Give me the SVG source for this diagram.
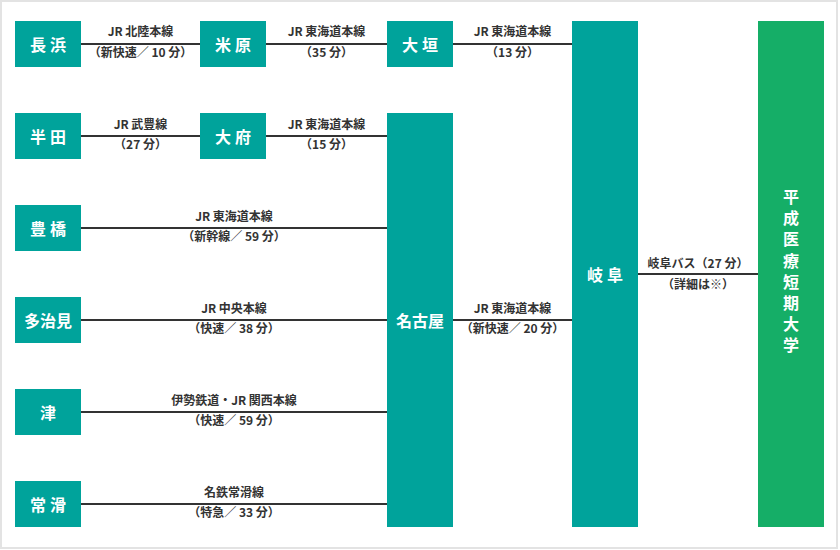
<svg xmlns="http://www.w3.org/2000/svg" width="840" height="550" viewBox="0 0 840 550">
<style>
.st rect{fill:#00a39b;}
.uni rect{fill:#15ae67;}
.nm{font-family:"Noto Sans CJK JP","Noto Sans",sans-serif;font-size:16px;font-weight:700;fill:#fff;text-anchor:middle;dominant-baseline:central;}
.sp{letter-spacing:4px;}
.vt{font-family:"Noto Sans CJK JP","Noto Sans",sans-serif;font-size:16px;font-weight:700;fill:#fff;writing-mode:vertical-rl;letter-spacing:5.2px;}
.lb{font-family:"Noto Sans CJK JP","Noto Sans",sans-serif;font-size:12px;font-weight:700;fill:#333;text-anchor:middle;}
.cn line{stroke:#333;stroke-width:2;}
</style>
<rect x="1" y="1" width="836" height="547" fill="#fff" stroke="#e3e3e3" stroke-width="2"/>
<g id="connectors" class="cn">
<line x1="81" y1="44" x2="200" y2="44"/>
<line x1="266" y1="44" x2="387" y2="44"/>
<line x1="453" y1="44" x2="572" y2="44"/>
<line x1="81" y1="136" x2="200" y2="136"/>
<line x1="266" y1="136" x2="387" y2="136"/>
<line x1="81" y1="228" x2="387" y2="228"/>
<line x1="81" y1="320" x2="387" y2="320"/>
<line x1="81" y1="412" x2="387" y2="412"/>
<line x1="81" y1="504" x2="387" y2="504"/>
<line x1="453" y1="320" x2="572" y2="320"/>
<line x1="638" y1="274" x2="758" y2="274"/>
</g>
<g id="labels">
<text class="lb" x="140.5" y="36">JR 北陸本線</text>
<text class="lb" x="140.5" y="57">（新快速／ 10 分）</text>
<text class="lb" x="326.5" y="36">JR 東海道本線</text>
<text class="lb" x="326.5" y="57">（35 分）</text>
<text class="lb" x="512.5" y="36">JR 東海道本線</text>
<text class="lb" x="512.5" y="57">（13 分）</text>
<text class="lb" x="140.5" y="129">JR 武豊線</text>
<text class="lb" x="140.5" y="149">（27 分）</text>
<text class="lb" x="326.5" y="129">JR 東海道本線</text>
<text class="lb" x="326.5" y="149">（15 分）</text>
<text class="lb" x="234" y="221">JR 東海道本線</text>
<text class="lb" x="234" y="241">（新幹線／ 59 分）</text>
<text class="lb" x="234" y="313">JR 中央本線</text>
<text class="lb" x="234" y="333">（快速／ 38 分）</text>
<text class="lb" x="234" y="405">伊勢鉄道・JR 関西本線</text>
<text class="lb" x="234" y="425">（快速／ 59 分）</text>
<text class="lb" x="234" y="497">名鉄常滑線</text>
<text class="lb" x="234" y="517">（特急／ 33 分）</text>
<text class="lb" x="512.5" y="313">JR 東海道本線</text>
<text class="lb" x="512.5" y="333">（新快速／ 20 分）</text>
<text class="lb" x="698" y="268">岐阜バス（27 分）</text>
<text class="lb" x="698" y="289">（詳細は※）</text>
</g>
<g id="nagahama" class="st"><rect x="15" y="21" width="66" height="46"/><text class="nm sp" x="50" y="44">長浜</text></g>
<g id="maibara" class="st"><rect x="200" y="21" width="66" height="46"/><text class="nm sp" x="235" y="44">米原</text></g>
<g id="ogaki" class="st"><rect x="387" y="21" width="66" height="46"/><text class="nm sp" x="422" y="44">大垣</text></g>
<g id="handa" class="st"><rect x="15" y="113" width="66" height="46"/><text class="nm sp" x="50" y="136">半田</text></g>
<g id="obu" class="st"><rect x="200" y="113" width="66" height="46"/><text class="nm sp" x="235" y="136">大府</text></g>
<g id="toyohashi" class="st"><rect x="15" y="205" width="66" height="46"/><text class="nm sp" x="50" y="228">豊橋</text></g>
<g id="tajimi" class="st"><rect x="15" y="297" width="66" height="46"/><text class="nm" x="48" y="320">多治見</text></g>
<g id="tsu" class="st"><rect x="15" y="389" width="66" height="46"/><text class="nm" x="48" y="412">津</text></g>
<g id="tokoname" class="st"><rect x="15" y="481" width="66" height="46"/><text class="nm sp" x="50" y="504">常滑</text></g>
<g id="nagoya" class="st"><rect x="387" y="113" width="66" height="414"/><text class="nm" x="420" y="320">名古屋</text></g>
<g id="gifu" class="st"><rect x="572" y="21" width="66" height="506"/><text class="nm sp" x="607" y="274">岐阜</text></g>
<g id="heisei" class="uni"><rect x="758" y="21" width="66" height="506"/>
<text class="vt" x="791" y="189">平成医療短期大学</text>
</g>
</svg>
